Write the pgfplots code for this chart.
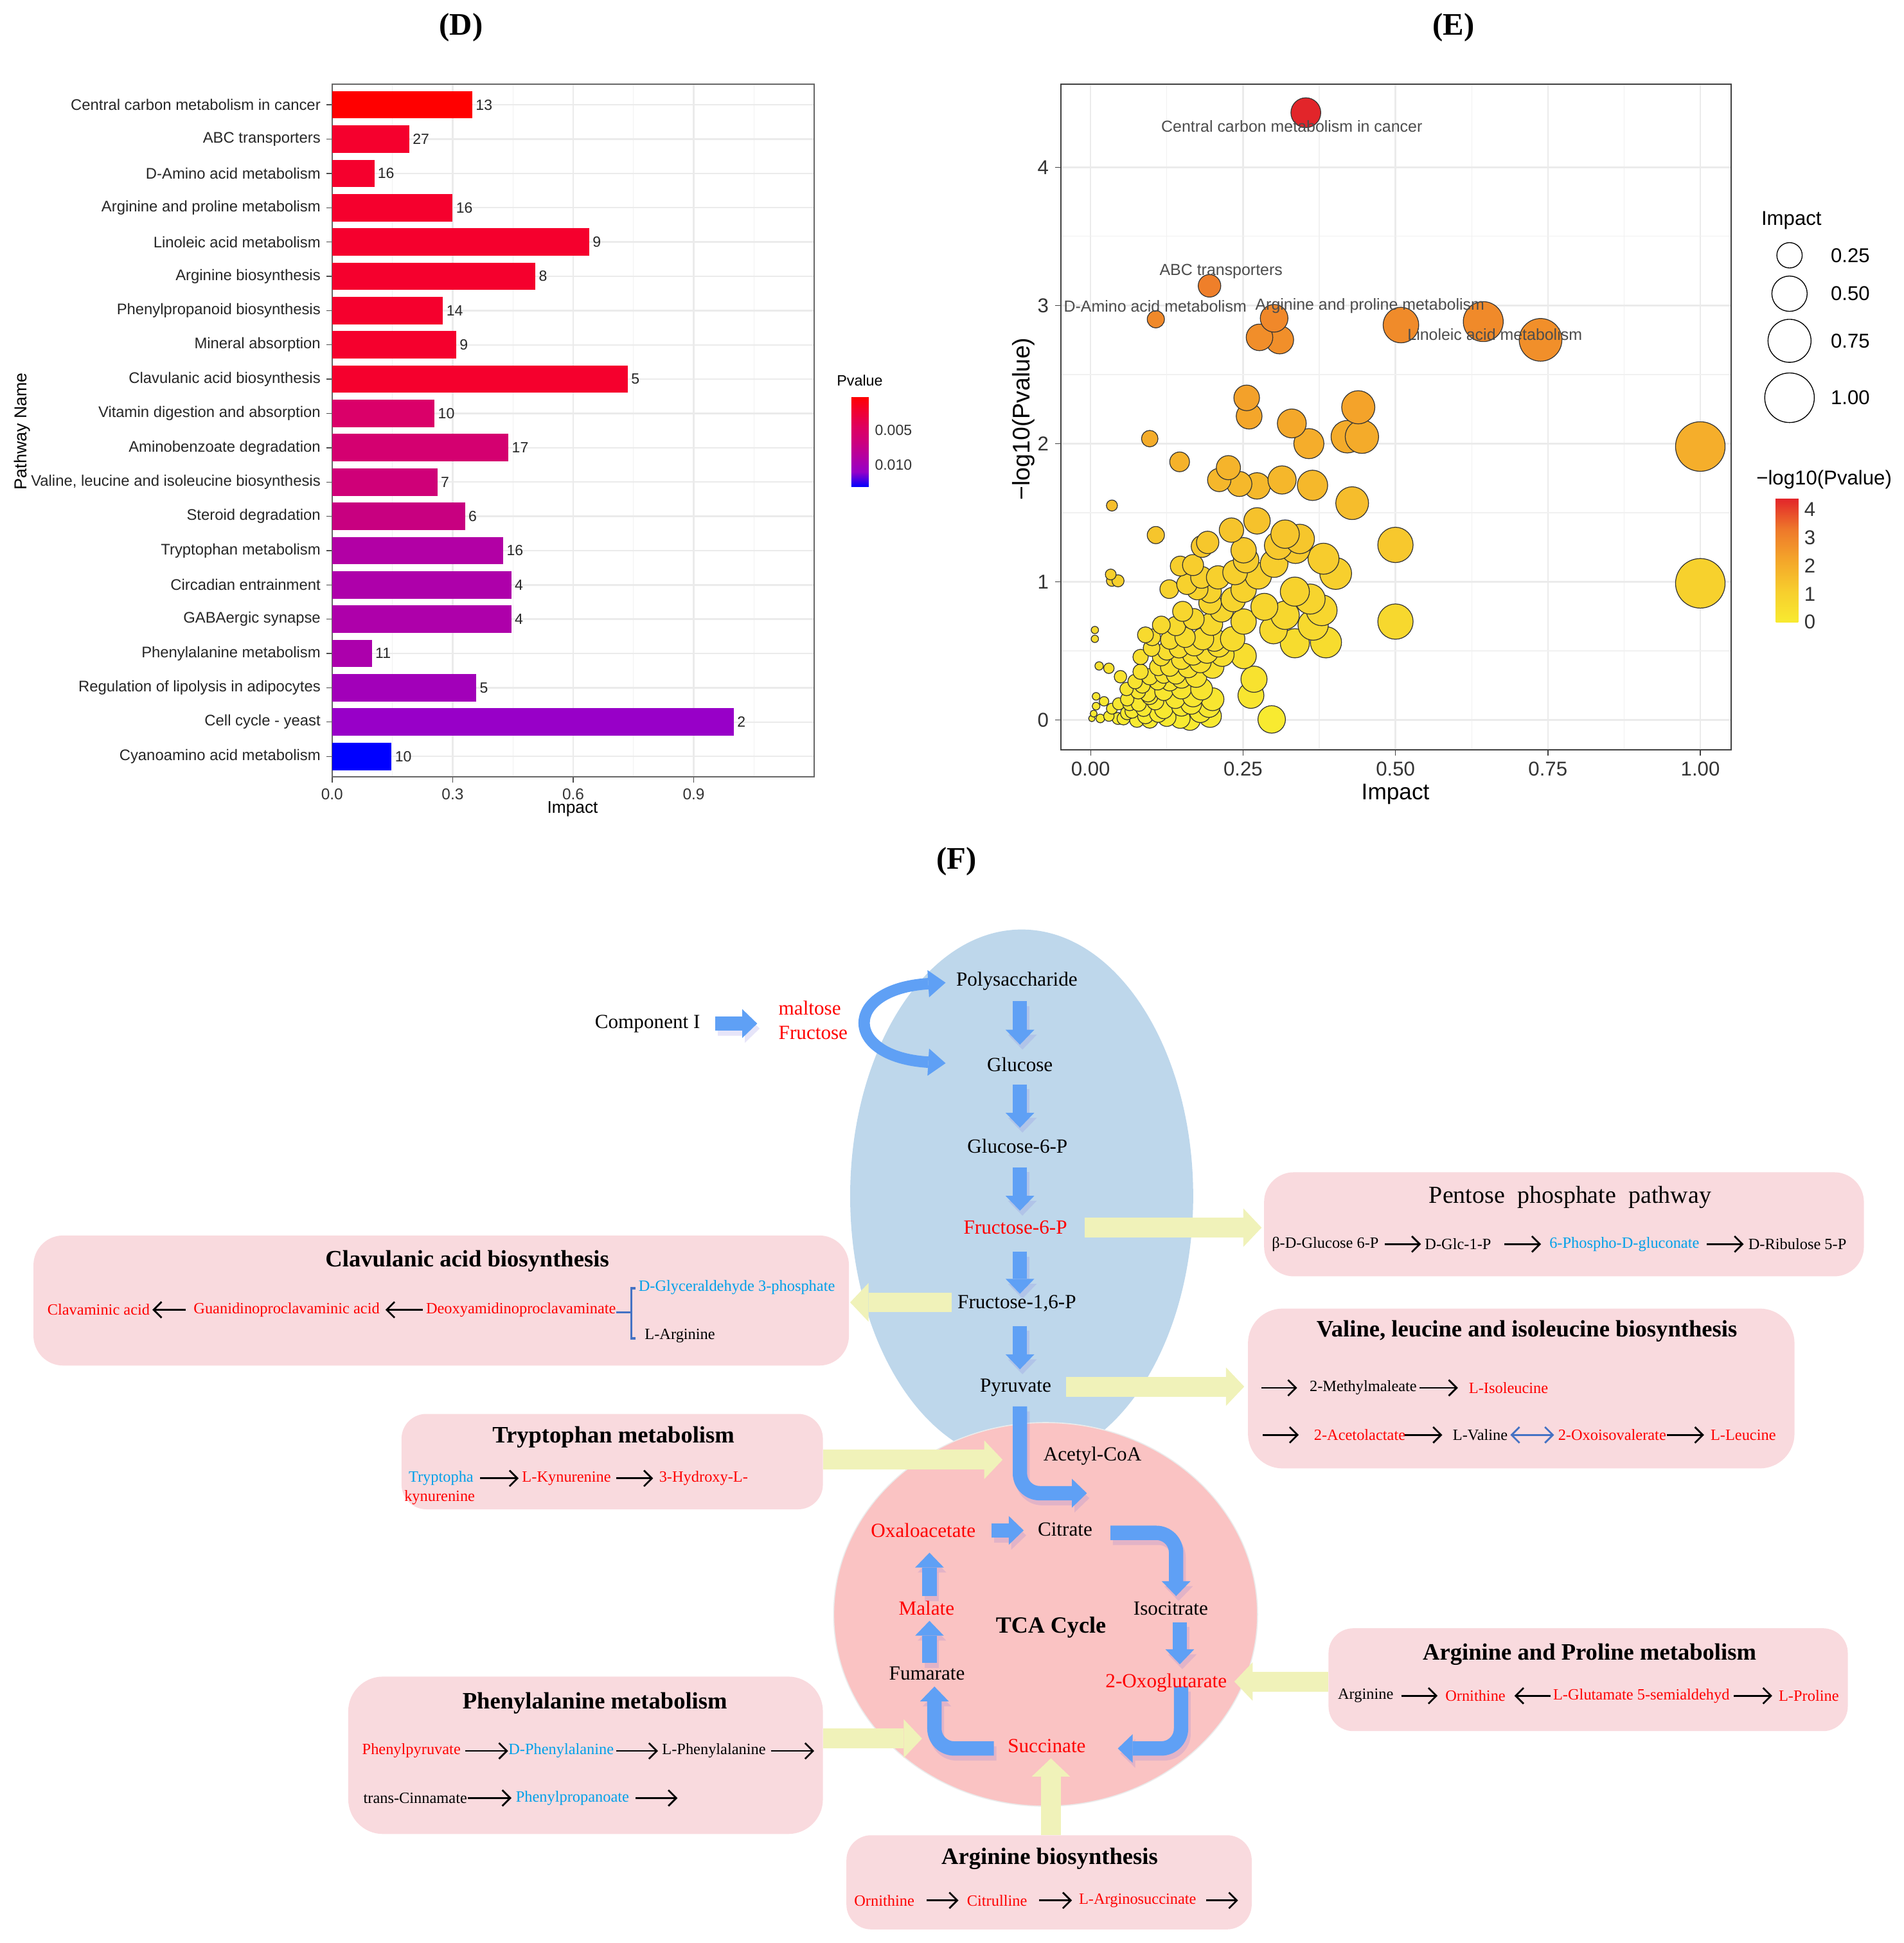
\documentclass[border=0pt]{standalone}
\usepackage{fontspec}
\setmainfont{Liberation Serif}
\setsansfont{Liberation Sans}
\usepackage{pgfplots}
\pgfplotsset{compat=1.18}
\usepackage{pgfplotstable}
\usetikzlibrary{arrows.meta}

\definecolor{txtred}{RGB}{255,0,0}
\definecolor{txtblue}{RGB}{0,160,233}
\definecolor{boxpink}{RGB}{249,218,222}
\definecolor{ellblue}{RGB}{190,215,235}
\definecolor{tcapink}{RGB}{250,195,195}
\definecolor{arrblue}{RGB}{95,160,245}
\definecolor{arrshadow}{RGB}{120,110,220}
\definecolor{arryel}{RGB}{240,242,185}
\definecolor{gridgray}{RGB}{235,235,235}
\definecolor{brk}{RGB}{68,114,196}
\definecolor{b1}{RGB}{255,0,0}
\definecolor{b2}{RGB}{245,0,45}
\definecolor{b10}{RGB}{218,0,105}
\definecolor{b11}{RGB}{212,0,112}
\definecolor{b12}{RGB}{207,0,120}
\definecolor{b13}{RGB}{200,0,128}
\definecolor{b14}{RGB}{178,0,165}
\definecolor{b15}{RGB}{174,0,170}
\definecolor{b17}{RGB}{172,0,172}
\definecolor{b18}{RGB}{162,0,185}
\definecolor{b19}{RGB}{152,0,200}
\definecolor{b20}{RGB}{0,0,255}

\newcommand{\fsm}{\fontsize{9}{10.5}\selectfont}
\newcommand{\fmain}{\fontsize{11.5}{13}\selectfont}
\newcommand{\fttl}{\fontsize{13.5}{15}\selectfont\bfseries}

\tikzset{
 yarrow/.style={draw=arryel, line width=4mm, -{Triangle[length=3.7mm,width=7.8mm,line width=0pt]}},
 barrow/.style={draw=arrblue, line width=2.9mm, rounded corners=4mm, -{Triangle[length=3mm,width=5.8mm,line width=0pt]}},
 karrow/.style={draw=black, line width=1pt, -{Straight Barb[length=1.6mm,width=3.2mm]}},
 sm/.style={font=\fsm, inner sep=0pt, anchor=west},
 mn/.style={font=\fmain, inner sep=0pt},
 tt/.style={font=\fttl, inner sep=0pt},
}

\pgfplotstableread{
idx imp n
1 0.349 13
2 0.192 27
3 0.105 16
4 0.300 16
5 0.640 9
6 0.506 8
7 0.276 14
8 0.309 9
9 0.736 5
10 0.255 10
11 0.439 17
12 0.262 7
13 0.331 6
14 0.426 16
15 0.446 4
16 0.446 4
17 0.099 11
18 0.359 5
19 1.000 2
20 0.148 10
}\datD

\pgfplotstableread{
x y
0.297 0.004
0.076 0.000
0.097 0.000
0.163 0.000
0.002 0.011
0.016 0.011
0.045 0.011
0.054 0.011
0.147 0.011
0.090 0.030
0.125 0.020
0.030 0.028
0.196 0.028
0.005 0.046
0.111 0.046
0.060 0.050
0.180 0.060
0.068 0.064
0.035 0.082
0.087 0.082
0.120 0.075
0.009 0.100
0.149 0.100
0.194 0.100
0.046 0.117
0.064 0.117
0.079 0.117
0.165 0.117
0.022 0.135
0.106 0.135
0.060 0.150
0.200 0.150
0.139 0.153
0.009 0.171
0.097 0.171
0.168 0.171
0.263 0.178
0.094 0.189
0.120 0.206
0.078 0.206
0.059 0.224
0.149 0.224
0.182 0.224
0.085 0.250
0.073 0.278
0.130 0.278
0.110 0.280
0.268 0.295
0.149 0.302
0.049 0.313
0.097 0.313
0.173 0.313
0.120 0.331
0.140 0.330
0.082 0.349
0.030 0.374
0.160 0.380
0.111 0.384
0.130 0.384
0.200 0.384
0.014 0.391
0.180 0.420
0.149 0.438
0.082 0.456
0.116 0.456
0.251 0.463
0.168 0.473
0.216 0.473
0.191 0.491
0.125 0.500
0.100 0.520
0.145 0.520
0.170 0.540
0.210 0.540
0.335 0.555
0.386 0.562
0.130 0.580
0.203 0.580
0.184 0.587
0.233 0.587
0.007 0.587
0.101 0.598
0.155 0.598
0.090 0.616
0.300 0.651
0.007 0.651
0.140 0.680
0.116 0.687
0.365 0.687
0.198 0.694
0.251 0.712
0.500 0.712
0.169 0.730
0.319 0.758
0.151 0.786
0.379 0.794
0.215 0.794
0.285 0.819
0.196 0.847
0.234 0.872
0.360 0.875
0.335 0.929
0.196 0.929
0.129 0.947
0.175 0.947
0.251 0.943
0.158 0.982
1.000 0.989
0.035 1.007
0.045 1.007
0.182 1.032
0.209 1.032
0.275 1.043
0.033 1.053
0.402 1.060
0.237 1.068
0.147 1.114
0.168 1.121
0.301 1.132
0.255 1.157
0.382 1.167
0.251 1.228
0.336 1.238
0.183 1.256
0.308 1.263
0.500 1.267
0.192 1.285
0.343 1.310
0.107 1.338
0.319 1.345
0.231 1.374
0.273 1.441
0.035 1.552
0.429 1.569
0.273 1.694
0.364 1.698
0.244 1.708
0.211 1.737
0.314 1.737
0.226 1.826
0.146 1.868
1.000 1.979
0.358 2.000
0.097 2.036
0.421 2.050
0.445 2.050
0.330 2.146
0.260 2.199
0.439 2.263
0.256 2.331
0.310 2.751
0.738 2.751
0.277 2.769
0.509 2.858
0.644 2.883
0.107 2.900
0.301 2.907
0.195 3.142
0.353 4.395
}\datE

\pgfplotstableread{
px py imp
1.1463 3.363 0.25
1.1463 3.085 0.50
1.1463 2.744 0.75
1.1463 2.332 1.00
}\datL

\begin{document}
\begin{tikzpicture}
\path (0,0) rectangle (384mm,392mm);

% ================= background axis: titles and panel F =================
\begin{axis}[at={(0,0)}, anchor=south west, width=384mm, height=392mm, scale only axis,
  xmin=0, xmax=1536, ymin=0, ymax=1568, y dir=reverse, hide axis, clip=false]
\node[font=\fontsize{18}{20}\selectfont\bfseries] at (372,22) {(D)};
\node[font=\fontsize{18}{20}\selectfont\bfseries] at (1173,22) {(E)};
\node[font=\fontsize{18}{20}\selectfont\bfseries] at (772,695) {(F)};

% axis labels of D and E
\node[font=\sffamily\fontsize{9.7}{11}\selectfont] at (462,653) {Impact};
\node[font=\sffamily\fontsize{9.9}{11}\selectfont, rotate=90] at (18,348) {Pathway Name};
\node[font=\sffamily\fontsize{8.6}{10}\selectfont, anchor=west, inner sep=0pt] at (675,307) {Pvalue};
\node[font=\sffamily\fontsize{13}{15}\selectfont] at (1126,641) {Impact};
\node[font=\sffamily\fontsize{13.8}{15}\selectfont, rotate=90] at (826,338) {−log10(Pvalue)};
\node[font=\sffamily\fontsize{11.5}{13}\selectfont, anchor=west, inner sep=0pt] at (1421,178) {Impact};
\node[font=\sffamily\fontsize{11.5}{13}\selectfont, anchor=west, inner sep=0pt] at (1477,206) {0.25};
\node[font=\sffamily\fontsize{11.5}{13}\selectfont, anchor=west, inner sep=0pt] at (1477,237) {0.50};
\node[font=\sffamily\fontsize{11.5}{13}\selectfont, anchor=west, inner sep=0pt] at (1477,275) {0.75};
\node[font=\sffamily\fontsize{11.5}{13}\selectfont, anchor=west, inner sep=0pt] at (1477,321) {1.00};
\node[font=\sffamily\fontsize{11.5}{13}\selectfont, anchor=west, inner sep=0pt] at (1417,387) {−log10(Pvalue)};

% shapes
\fill[ellblue] (824.4,965.3) ellipse [x radius=34.6mm, y radius=53.8mm];
\filldraw[fill=tcapink, draw=black!8, line width=0.6pt] (843.7,1302.8) ellipse [x radius=42.75mm, y radius=38.7mm];

\fill[boxpink, rounded corners=6mm] (27,997) rectangle (685,1102);
\fill[boxpink, rounded corners=5mm] (324,1141) rectangle (664,1218);
\fill[boxpink, rounded corners=6mm] (1020,946) rectangle (1504,1030);
\fill[boxpink, rounded corners=7mm] (1007,1056) rectangle (1448,1185);
\fill[boxpink, rounded corners=5mm] (1072,1314) rectangle (1491,1397);
\fill[boxpink, rounded corners=7mm] (281,1353) rectangle (664,1480);
\fill[boxpink, rounded corners=5mm] (683,1481) rectangle (1010,1557);

% yellow arrows
\draw[yarrow] (875,990.7) -- (1018,990.7);
\draw[yarrow] (768,1051) -- (686,1051);
\draw[yarrow] (860,1119) -- (1004,1119);
\draw[yarrow] (664,1178) -- (809,1178);
\draw[yarrow] (1072,1357) -- (996,1357);
\draw[yarrow] (664,1403) -- (744,1403);
\draw[yarrow] (848,1481) -- (848,1419);

% blue arrows: soft shadows
\begin{scope}[opacity=0.18]
\draw[barrow, draw=arrshadow] (579,830) -- (613,830);
\draw[barrow, draw=arrshadow] (825,812) -- (825,847);
\draw[barrow, draw=arrshadow] (825,879) -- (825,914);
\draw[barrow, draw=arrshadow] (825,946) -- (825,981);
\draw[barrow, draw=arrshadow] (825,1014) -- (825,1048);
\draw[barrow, draw=arrshadow] (825,1074) -- (825,1109);
\draw[barrow, draw=arrshadow] (825,1139) -- (825,1209) -- (879,1209);
\draw[barrow, draw=arrshadow] (802,1239) -- (828,1239);
\draw[barrow, draw=arrshadow] (898,1241) -- (951,1241) -- (951,1292);
\draw[barrow, draw=arrshadow] (954,1313) -- (954,1347);
\draw[barrow, draw=arrshadow] (955,1365) -- (955,1415) -- (904,1415);
\draw[barrow, draw=arrshadow] (804,1415) -- (756,1415) -- (756,1365);
\draw[barrow, draw=arrshadow] (752,1346) -- (752,1312);
\draw[barrow, draw=arrshadow] (752,1292) -- (752,1257);
\end{scope}

% blue arrows
\draw[barrow] (577,826) -- (611,826);
\draw[draw=arrblue, line width=2.3mm, {Triangle[length=3.5mm,width=5.5mm,line width=0pt]}-{Triangle[length=3.5mm,width=5.5mm,line width=0pt]}]
  (763,793) .. controls (680,798) and (680,853) .. (763,858);
\draw[barrow] (823,808) -- (823,843);
\draw[barrow] (823,875) -- (823,910);
\draw[barrow] (823,942) -- (823,977);
\draw[barrow] (823,1010) -- (823,1044);
\draw[barrow] (823,1070) -- (823,1105);
\draw[barrow] (823,1135) -- (823,1205) -- (877,1205);
\draw[barrow] (800,1235) -- (826,1235);
\draw[barrow] (896,1237) -- (949,1237) -- (949,1288);
\draw[barrow] (952,1309) -- (952,1343);
\draw[barrow] (953,1361) -- (953,1411) -- (902,1411);
\draw[barrow] (802,1411) -- (754,1411) -- (754,1361);
\draw[barrow] (750,1342) -- (750,1308);
\draw[barrow] (750,1288) -- (750,1253);

% main labels
\node[mn] at (522.5,826) {Component I};
\node[mn, text=txtred, anchor=west] at (628,813.6) {maltose};
\node[mn, text=txtred, anchor=west] at (628,833.5) {Fructose};
\node[mn] at (820.5,792) {Polysaccharide};
\node[mn] at (823,859) {Glucose};
\node[mn] at (821,925) {Glucose-6-P};
\node[mn, text=txtred] at (819.3,990.7) {Fructose-6-P};
\node[mn] at (820.5,1051.8) {Fructose-1,6-P};
\node[mn] at (819.5,1120) {Pyruvate};
\node[mn] at (881.5,1175) {Acetyl-CoA};
\node[mn] at (859.4,1234.4) {Citrate};
\node[mn, text=txtred] at (745,1235) {Oxaloacetate};
\node[mn, text=txtred] at (747.6,1298) {Malate};
\node[font=\fontsize{13.3}{15}\selectfont\bfseries, inner sep=0pt] at (848,1313.3) {TCA Cycle};
\node[mn] at (944.7,1298) {Isocitrate};
\node[mn] at (748,1350.4) {Fumarate};
\node[mn, text=txtred] at (941,1357.8) {2-Oxoglutarate};
\node[mn, text=txtred] at (844.6,1409) {Succinate};

% box titles
\node[tt] at (377,1017.5) {Clavulanic acid biosynthesis};
\node[tt] at (495,1160) {Tryptophan metabolism};
\node[tt] at (1232,1074) {Valine, leucine and isoleucine biosynthesis};
\node[tt] at (1282.6,1335) {Arginine and Proline metabolism};
\node[tt] at (480,1374.5) {Phenylalanine metabolism};
\node[tt] at (847,1500) {Arginine biosynthesis};
\node[font=\fontsize{14}{16}\selectfont, inner sep=0pt] at (1267,966) {Pentose\hspace{2.5mm}phosphate\hspace{2.5mm}pathway};

% Clavulanic box
\node[sm, text=txtred] at (38,1057) {Clavaminic acid};
\draw[karrow] (150,1057) -- (123,1057);
\node[sm, text=txtred] at (156,1057) {Guanidinoproclavaminic acid};
\draw[karrow] (341,1057) -- (311,1057);
\node[sm, text=txtred] at (343.5,1057) {Deoxyamidinoproclavaminate};
\draw[brk, line width=1.3pt] (497,1059) -- (509.5,1059);
\draw[brk, line width=1.3pt] (513,1039.5) -- (509.5,1039.5) -- (509.5,1080) -- (513,1080);
\node[sm, text=txtblue] at (515,1039) {D-Glyceraldehyde 3-phosphate};
\node[sm] at (520,1078) {L-Arginine};

% Tryptophan box
\node[sm, text=txtblue] at (329.5,1193) {Tryptopha};
\node[sm, text=txtred] at (326,1208.5) {kynurenine};
\draw[karrow] (387.5,1193) -- (418.5,1193);
\node[sm, text=txtred] at (421,1193) {L-Kynurenine};
\draw[karrow] (497,1193) -- (527,1193);
\node[sm, text=txtred] at (531.6,1193) {3-Hydroxy-L-};

% Pentose box
\node[sm] at (1026,1004) {β-D-Glucose 6-P};
\draw[karrow] (1117.5,1004) -- (1146.6,1004);
\node[sm] at (1149.5,1004) {D-Glc-1-P};
\draw[karrow] (1214,1004) -- (1243.5,1004);
\node[sm, text=txtblue] at (1250,1004) {6-Phospho-D-gluconate};
\draw[karrow] (1377.4,1004) -- (1407,1004);
\node[sm] at (1410.5,1004) {D-Ribulose 5-P};

% Valine box
\draw[karrow] (1017.6,1120) -- (1046.7,1120);
\node[sm] at (1056.5,1120) {2-Methylmaleate};
\draw[karrow] (1145.6,1120) -- (1176.4,1120);
\node[sm, text=txtred] at (1185,1120) {L-Isoleucine};
\draw[karrow] (1019,1158) -- (1048,1158);
\node[sm, text=txtred] at (1060,1158) {2-Acetolactate};
\draw[karrow] (1133.4,1158) -- (1163.8,1158);
\node[sm] at (1172,1158) {L-Valine};
\draw[brk, line width=1pt, {Straight Barb[length=1.6mm,width=3.2mm]}-{Straight Barb[length=1.6mm,width=3.2mm]}] (1218.7,1158) -- (1254,1158);
\node[sm, text=txtred] at (1257,1158) {2-Oxoisovalerate};
\draw[karrow] (1345,1158) -- (1375,1158);
\node[sm, text=txtred] at (1380,1158) {L-Leucine};

% Arginine and Proline box
\node[sm] at (1079.3,1368.5) {Arginine};
\draw[karrow] (1130.7,1368.5) -- (1160,1368.5);
\node[sm, text=txtred] at (1166,1368.5) {Ornithine};
\draw[karrow] (1251,1368.5) -- (1222,1368.5);
\node[sm, text=txtred] at (1253,1368.5) {L-Glutamate 5-semialdehyd};
\draw[karrow] (1399,1368.5) -- (1430,1368.5);
\node[sm, text=txtred] at (1435,1368.5) {L-Proline};

% Phenylalanine box
\node[sm, text=txtred] at (292,1413) {Phenylpyruvate};
\draw[karrow] (375.4,1413) -- (410,1413);
\node[sm, text=txtblue] at (410,1413) {D-Phenylalanine};
\draw[karrow] (497,1413) -- (531,1413);
\node[sm] at (534,1413) {L-Phenylalanine};
\draw[karrow] (622,1413) -- (657,1413);
\node[sm] at (293,1451) {trans-Cinnamate};
\draw[karrow] (377.4,1451) -- (412.7,1451);
\node[sm, text=txtblue] at (416,1451) {Phenylpropanoate};
\draw[karrow] (513,1451) -- (546.7,1451);

% Arginine biosynthesis box
\node[sm, text=txtred] at (689,1533.6) {Ornithine};
\draw[karrow] (747.6,1533.6) -- (773.4,1533.6);
\node[sm, text=txtred] at (780,1533.6) {Citrulline};
\draw[karrow] (838.5,1533.6) -- (865,1533.6);
\node[sm, text=txtred] at (870.3,1533.6) {L-Arginosuccinate};
\draw[karrow] (973.5,1533.6) -- (999,1533.6);
\end{axis}

% ================= panel D =================
\begin{axis}[at={(67mm,235.25mm)}, anchor=south west, width=97.25mm, height=139.75mm, scale only axis,
  xmin=0, xmax=1.2, ymin=0.4, ymax=20.6, y dir=reverse,
  xtick={0,0.3,0.6,0.9}, xticklabels={0.0,0.3,0.6,0.9},
  minor xtick={0.15,0.45,0.75,1.05},
  ytick={1,...,20},
  yticklabels={Central carbon metabolism in cancer, ABC transporters, D-Amino acid metabolism, Arginine and proline metabolism, Linoleic acid metabolism, Arginine biosynthesis, Phenylpropanoid biosynthesis, Mineral absorption, Clavulanic acid biosynthesis, Vitamin digestion and absorption, Aminobenzoate degradation, {Valine, leucine and isoleucine biosynthesis}, Steroid degradation, Tryptophan metabolism, Circadian entrainment, GABAergic synapse, Phenylalanine metabolism, Regulation of lipolysis in adipocytes, Cell cycle - yeast, Cyanoamino acid metabolism},
  xmajorgrids, ymajorgrids, xminorgrids,
  major grid style={gridgray, line width=0.9pt},
  minor grid style={gridgray!70, line width=0.45pt},
  tick align=outside, major tick length=1.1mm, minor tick length=0pt,
  tick pos=left,
  tick style={black!70, line width=0.5pt},
  axis line style={black!60, line width=0.8pt},
  xticklabel style={font=\sffamily\fontsize{9}{10}\selectfont, text=black!80},
  yticklabel style={font=\sffamily\fontsize{8.8}{10}\selectfont, text=black!85},
  /pgf/number format/assume math mode=true,
  colormap={pv}{rgb255=(0,0,255) rgb255=(150,0,200) rgb255=(180,0,162) rgb255=(205,0,125) rgb255=(222,0,95) rgb255=(240,0,50) rgb255=(255,0,0)},
  point meta min=-0.0132, point meta max=-0.0002,
  colorbar,
  colorbar style={at={(parent axis.south east)}, anchor=south west, xshift=4.5mm, yshift=58.5mm,
    width=3.5mm, height=18.25mm, scale only axis,
    scaled y ticks=false,
    ytick={-0.01,-0.005}, yticklabels={0.010,0.005},
    yticklabel style={font=\sffamily\fontsize{8.5}{10}\selectfont, text=black!80},
    major tick length=0pt, axis line style={draw=none}},
]
\addplot[xbar, bar width=0.8, bar shift=0pt, draw=none, fill=b1] coordinates {(0.349,1)};
\addplot[xbar, bar width=0.8, bar shift=0pt, draw=none, fill=b2] coordinates {(0.192,2)};
\addplot[xbar, bar width=0.8, bar shift=0pt, draw=none, fill=b2] coordinates {(0.105,3)};
\addplot[xbar, bar width=0.8, bar shift=0pt, draw=none, fill=b2] coordinates {(0.300,4)};
\addplot[xbar, bar width=0.8, bar shift=0pt, draw=none, fill=b2] coordinates {(0.640,5)};
\addplot[xbar, bar width=0.8, bar shift=0pt, draw=none, fill=b2] coordinates {(0.506,6)};
\addplot[xbar, bar width=0.8, bar shift=0pt, draw=none, fill=b2] coordinates {(0.276,7)};
\addplot[xbar, bar width=0.8, bar shift=0pt, draw=none, fill=b2] coordinates {(0.309,8)};
\addplot[xbar, bar width=0.8, bar shift=0pt, draw=none, fill=b2] coordinates {(0.736,9)};
\addplot[xbar, bar width=0.8, bar shift=0pt, draw=none, fill=b10] coordinates {(0.255,10)};
\addplot[xbar, bar width=0.8, bar shift=0pt, draw=none, fill=b11] coordinates {(0.439,11)};
\addplot[xbar, bar width=0.8, bar shift=0pt, draw=none, fill=b12] coordinates {(0.262,12)};
\addplot[xbar, bar width=0.8, bar shift=0pt, draw=none, fill=b13] coordinates {(0.331,13)};
\addplot[xbar, bar width=0.8, bar shift=0pt, draw=none, fill=b14] coordinates {(0.426,14)};
\addplot[xbar, bar width=0.8, bar shift=0pt, draw=none, fill=b15] coordinates {(0.446,15)};
\addplot[xbar, bar width=0.8, bar shift=0pt, draw=none, fill=b15] coordinates {(0.446,16)};
\addplot[xbar, bar width=0.8, bar shift=0pt, draw=none, fill=b17] coordinates {(0.099,17)};
\addplot[xbar, bar width=0.8, bar shift=0pt, draw=none, fill=b18] coordinates {(0.359,18)};
\addplot[xbar, bar width=0.8, bar shift=0pt, draw=none, fill=b19] coordinates {(1.000,19)};
\addplot[xbar, bar width=0.8, bar shift=0pt, draw=none, fill=b20] coordinates {(0.148,20)};
\addplot[draw=none, mark=none, nodes near coords, point meta=explicit symbolic,
  nodes near coords style={anchor=west, font=\sffamily\fontsize{8.5}{10}\selectfont, text=black!85, inner sep=1.2pt, xshift=0.6pt}]
  table[x=imp, y=idx, meta=n] {\datD};
\end{axis}

% ================= panel E =================
\begin{axis}[at={(214mm,240.75mm)}, anchor=south west, width=135.25mm, height=134.25mm, scale only axis,
  xmin=-0.0488, xmax=1.0508, ymin=-0.215, ymax=4.601,
  xtick={0,0.25,0.5,0.75,1}, xticklabels={0.00,0.25,0.50,0.75,1.00},
  ytick={0,1,2,3,4}, yticklabels={0,1,2,3,4},
  minor xtick={0.125,0.375,0.625,0.875}, minor ytick={0.5,1.5,2.5,3.5},
  xmajorgrids, ymajorgrids, xminorgrids, yminorgrids,
  major grid style={gridgray, line width=0.9pt},
  minor grid style={gridgray!70, line width=0.45pt},
  tick align=outside, major tick length=1.2mm, minor tick length=0pt,
  tick pos=left,
  tick style={black!75, line width=0.5pt},
  axis line style={black!75, line width=0.8pt},
  ticklabel style={font=\sffamily\fontsize{11.5}{13}\selectfont, text=black!80},
  /pgf/number format/assume math mode=true,
  clip=false,
  colormap={lp}{rgb255=(248,234,48) rgb255=(247,206,45) rgb255=(244,166,42) rgb255=(238,120,42) rgb255=(226,36,42)},
  point meta min=0, point meta max=4.4,
  colorbar,
  colorbar style={at={(parent axis.south east)}, anchor=south west, xshift=6mm, yshift=25.75mm,
    width=4.5mm, height=25mm, scale only axis,
    ytick={0,1,2,3,4}, yticklabels={0,1,2,3,4},
    yticklabel style={font=\sffamily\fontsize{11.5}{13}\selectfont, text=black!80},
    major tick length=0pt, axis line style={draw=none}},
]
\addplot[scatter, only marks, mark=*, line width=0.45pt, point meta=\thisrow{y},
  scatter/use mapped color={draw=black!80, fill=mapped color},
  visualization depends on={0.7113*sqrt(6+394*\thisrow{x}) \as \rad},
  scatter/@pre marker code/.append style={/tikz/mark size=\rad}]
  table[x=x, y=y] {\datE};
\addplot[scatter, only marks, mark=*, line width=0.5pt,
  scatter/use mapped color={draw=black, fill=white},
  visualization depends on={0.7113*sqrt(6+394*\thisrow{imp}) \as \rad},
  scatter/@pre marker code/.append style={/tikz/mark size=\rad}]
  table[x=px, y=py] {\datL};
\addplot[draw=none, mark=none, nodes near coords, point meta=explicit symbolic,
  nodes near coords style={anchor=center, font=\sffamily\fontsize{9.2}{11}\selectfont, text=black!70, inner sep=0pt}]
  coordinates {(0.330,4.296) [Central carbon metabolism in cancer]
               (0.214,3.247) [ABC transporters]
               (0.106,2.996) [D-Amino acid metabolism]
               (0.458,2.996) [Arginine and proline metabolism]
               (0.663,2.789) [Linoleic acid metabolism]};
\end{axis}
\end{tikzpicture}
\end{document}
